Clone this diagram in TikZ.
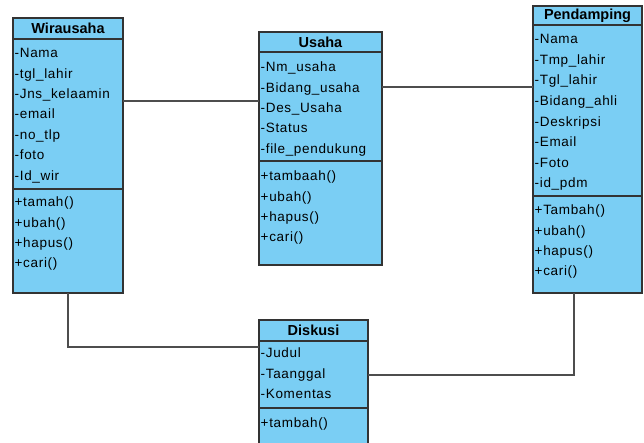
\documentclass[tikz,border=0pt]{standalone}
\usepackage{fontspec}
\setmainfont{Liberation Sans}
\newfontfamily\memberfont{Liberation Sans}[LetterSpace=5]
\definecolor{classfill}{HTML}{7ACEF4}
\definecolor{boxline}{HTML}{333333}
\definecolor{linkgray}{HTML}{4D4D4D}
\tikzset{
  classbox/.style={draw=boxline, fill=classfill, line width=1.4pt, anchor=north west,
    inner sep=0pt, outer sep=0pt},
  divider/.style={draw=boxline, line width=1.2pt},
  member/.style={anchor=base west, inner sep=0pt, text=black,
    font=\memberfont\fontsize{13.5}{15}\selectfont},
  classtitle/.style={inner sep=0pt, text=black, font=\bfseries\fontsize{14.5}{16}\selectfont},
  link/.style={draw=linkgray, line width=1.3pt},
}
\begin{document}
\begin{tikzpicture}[x=1pt, y=-1pt]
\useasboundingbox (0,0) rectangle (644,442);

% ---- Wirausaha ----
\node[classbox, minimum width=110pt, minimum height=275pt] (wir) at (13,18) {};
\draw[divider] (wir.west |- 0,39) -- (wir.east |- 0,39);
\draw[divider] (wir.west |- 0,189) -- (wir.east |- 0,189);
\node[classtitle] (wir-t) at (68,28.5) {Wirausaha};
\foreach \t [count=\i] in {-Nama,-tgl\_lahir,-Jns\_kelaamin,-email,-no\_tlp,-foto,-Id\_wir}
  \node[member] (wir-a\i) at (14.5,{57.7+20.4*(\i-1)}) {\t};
\foreach \t [count=\i] in {+tamah(),+ubah(),+hapus(),+cari()}
  \node[member] (wir-m\i) at (14.5,{206.7+20.4*(\i-1)}) {\t};

% ---- Usaha ----
\node[classbox, minimum width=123pt, minimum height=233pt] (usa) at (259,32) {};
\draw[divider] (usa.west |- 0,52) -- (usa.east |- 0,52);
\draw[divider] (usa.west |- 0,161) -- (usa.east |- 0,161);
\node[classtitle] (usa-t) at (320.5,42) {Usaha};
\foreach \t [count=\i] in {-Nm\_usaha,-Bidang\_usaha,-Des\_Usaha,-Status,-file\_pendukung}
  \node[member] (usa-a\i) at (260.5,{71.7+20.4*(\i-1)}) {\t};
\foreach \t [count=\i] in {+tambaah(),+ubah(),+hapus(),+cari()}
  \node[member] (usa-m\i) at (260.5,{180.7+20.4*(\i-1)}) {\t};

% ---- Pendamping ----
\node[classbox, minimum width=109pt, minimum height=287pt] (pen) at (533,6) {};
\draw[divider] (pen.west |- 0,25) -- (pen.east |- 0,25);
\draw[divider] (pen.west |- 0,196) -- (pen.east |- 0,196);
\node[classtitle] (pen-t) at (587.5,15.5) {Pendamping};
\foreach \t [count=\i] in {-Nama,-Tmp\_lahir,-Tgl\_lahir,-Bidang\_ahli,-Deskripsi,-Email,-Foto,-id\_pdm}
  \node[member] (pen-a\i) at (534.5,{43.7+20.6*(\i-1)}) {\t};
\foreach \t [count=\i] in {+Tambah(),+ubah(),+hapus(),+cari()}
  \node[member] (pen-m\i) at (534.5,{214.7+20.4*(\i-1)}) {\t};

% ---- Diskusi ----
\node[classbox, minimum width=109pt, minimum height=140pt] (dis) at (259,320) {};
\draw[divider] (dis.west |- 0,341) -- (dis.east |- 0,341);
\draw[divider] (dis.west |- 0,408) -- (dis.east |- 0,408);
\node[classtitle] (dis-t) at (313.5,330.5) {Diskusi};
\foreach \t [count=\i] in {-Judul,-Taanggal,-Komentas}
  \node[member] (dis-a\i) at (260.5,{357.7+20.4*(\i-1)}) {\t};
\node[member] (dis-m1) at (260.5,427.7) {+tambah()};

% ---- associations ----
\draw[link] (wir.east |- 0,101) -- (usa.west |- 0,101);
\draw[link] (usa.east |- 0,87) -- (pen.west |- 0,87);
\draw[link] (wir.south -| 68,0) |- (dis.west |- 0,347);
\draw[link] (pen.south -| 574,0) |- (dis.east |- 0,375);
\end{tikzpicture}
\end{document}
